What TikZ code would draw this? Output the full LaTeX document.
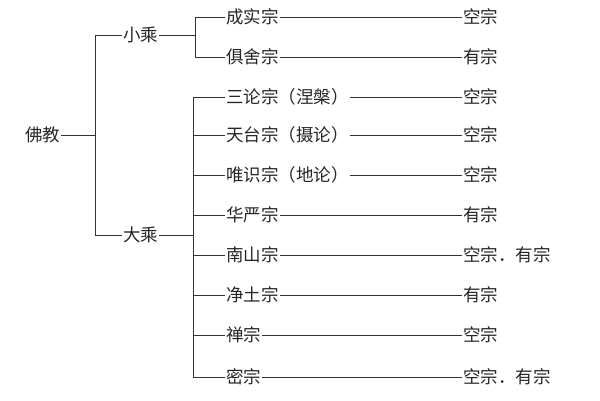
\documentclass[tikz,border=0pt]{standalone}
\usepackage{fontspec}
\setmainfont{Noto Sans CJK SC}
\begin{document}
\begin{tikzpicture}[x=1pt,y=-1pt,
  t/.style={anchor=west,inner sep=1pt,font=\fontsize{17.5}{17.5}\selectfont,text=black!85},
  ln/.style={draw=black!80,line width=0.8pt}]
\useasboundingbox[fill=white] (0,0) rectangle (600,400);
\node[t] (fo) at (24,135) {佛教};
\node[t] (xc) at (122,35) {小乘};
\node[t] (dc) at (122,235) {大乘};
\coordinate (v1) at (95,135);
\draw[ln] (fo.east) -- (v1);
\draw[ln] (95,35) -- (95,235);
\draw[ln] (95,35) -- (xc.west);
\draw[ln] (95,235) -- (dc.west);
\draw[ln] (xc.east) -- (195,35);
\draw[ln] (195,17) -- (195,57);
\draw[ln] (dc.east) -- (193,235);
\draw[ln] (193,97) -- (193,377);
\foreach \n/\y/\a/\b/\c in {
 a/17/成实宗/空宗/195, b/57/俱舍宗/有宗/195,
 c/97/三论宗（涅槃）/空宗/193, d/135/天台宗（摄论）/空宗/193,
 e/175/唯识宗（地论）/空宗/193, f/215/华严宗/有宗/193,
 g/255/南山宗/空宗．有宗/193, h/295/净土宗/有宗/193,
 i/335/禅宗/空宗/193, j/377/密宗/空宗．有宗/193}{
  \node[t] (l\n) at (225,\y) {\a};
  \node[t] (r\n) at (462,\y) {\b};
  \draw[ln] (\c,\y) -- (l\n.west);
  \draw[ln] (l\n.east) -- (r\n.west);
}
\end{tikzpicture}
\end{document}
